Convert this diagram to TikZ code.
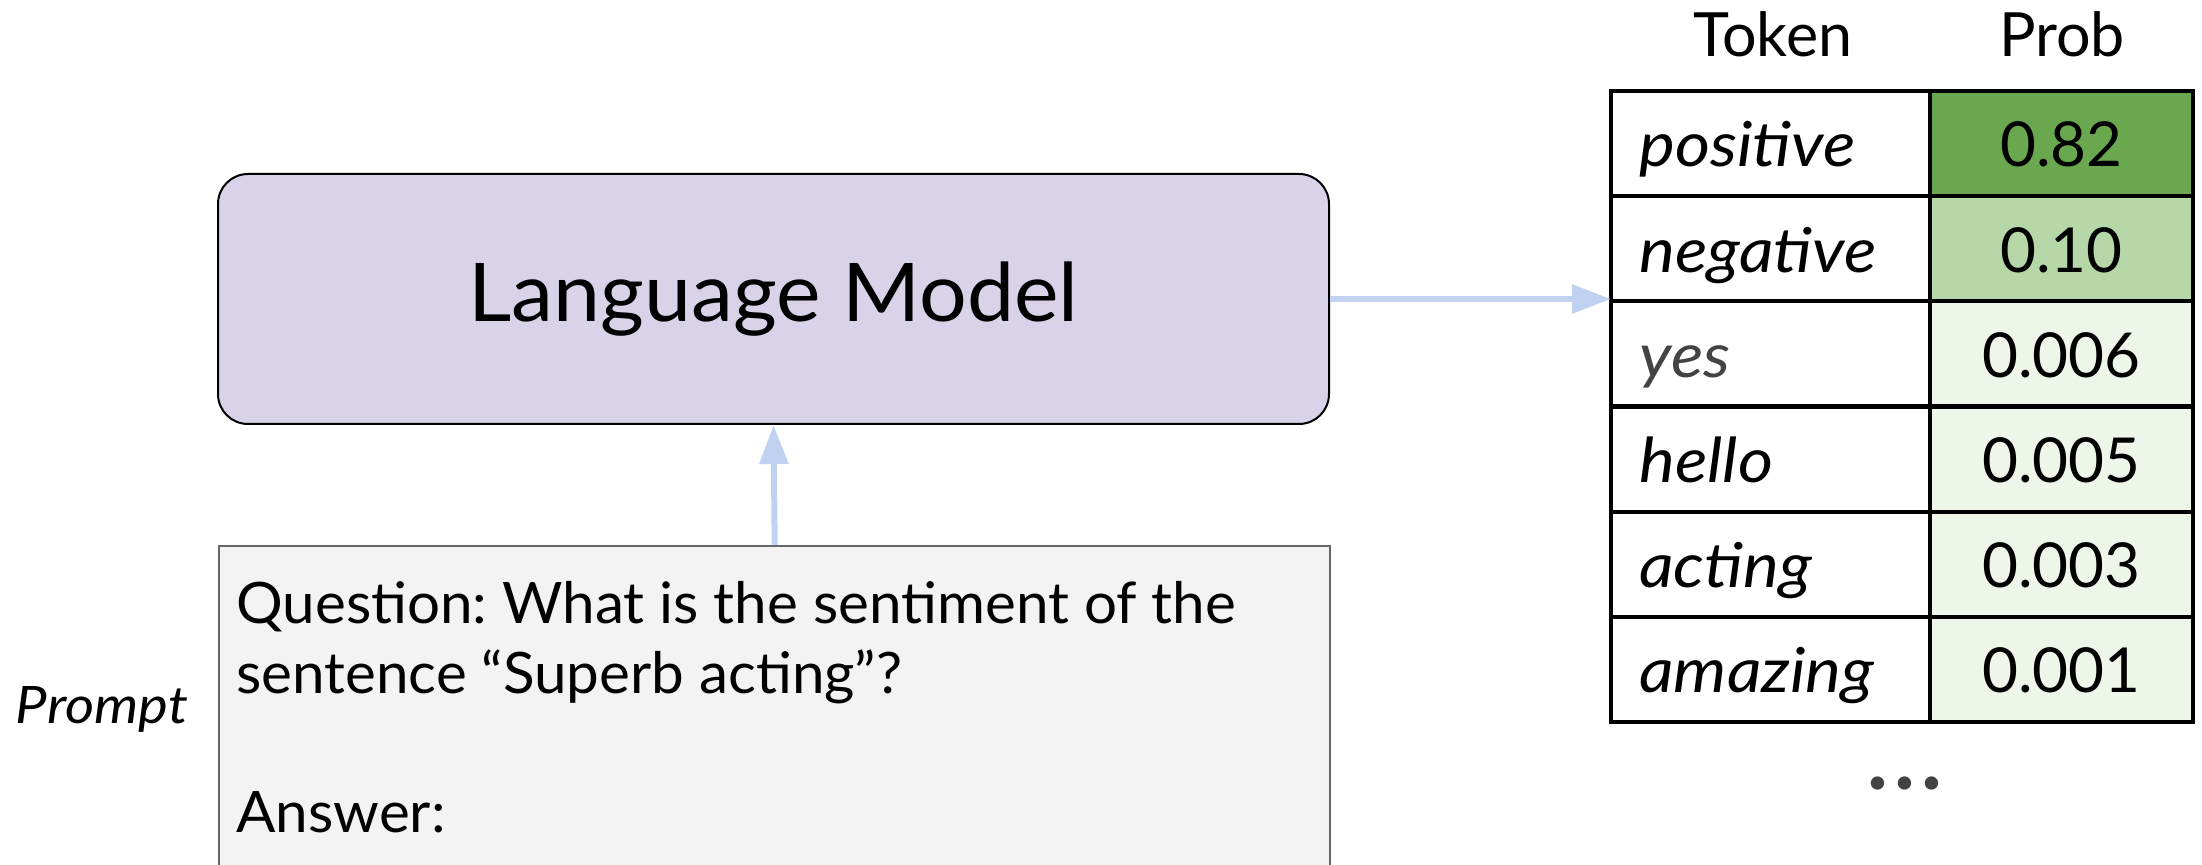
\documentclass[tikz,border=0pt]{standalone}
\usepackage{fontspec}
\setmainfont{Lato}
\newfontfamily\lmfont[FakeStretch=1.04]{Lato}
\newfontfamily\wideital[FakeStretch=1.09]{Lato}
\newfontfamily\promptfont[FakeStretch=1.02]{Lato}
\usetikzlibrary{arrows.meta,positioning}
\frenchspacing

\definecolor{lmfill}{HTML}{D9D2E9}
\definecolor{flow}{HTML}{C0D2F0}
\definecolor{promptfill}{HTML}{F3F3F3}
\definecolor{promptline}{HTML}{666666}
\definecolor{probhi}{HTML}{6AA84F}
\definecolor{probmid}{HTML}{B6D7A8}
\definecolor{problo}{HTML}{EEF6EA}
\definecolor{softtext}{HTML}{434343}

\tikzset{
  flowarrow/.style={draw=flow, line width=3pt,
    -{Triangle[length=19.5pt,width=14pt]}},
  cell/.style={draw=black, line width=2pt, minimum height=52.58pt,
    inner sep=0pt, outer sep=0pt, anchor=north west},
  tokcell/.style={cell, minimum width=159.5pt, fill=white},
  probcell/.style={cell, minimum width=131.5pt},
  toktext/.style={anchor=base west, font=\fontsize{31}{36}\wideital\itshape, inner sep=0pt},
  probtext/.style={anchor=base, font=\fontsize{31}{36}\selectfont, inner sep=0pt},
  headtext/.style={anchor=base, font=\fontsize{30.5}{36}\selectfont, inner sep=0pt},
}

\begin{document}
\begin{tikzpicture}[x=0.5pt, y=-0.5pt]
  \useasboundingbox (0,0) rectangle (2202,865);

  % language model block
  \node[draw=black, line width=1pt, fill=lmfill, rounded corners=15pt,
        minimum width=555.5pt, minimum height=125pt, inner sep=0pt]
        (lm) at (773.5,299)
        {\fontsize{40.5}{48}\lmfont Language Model};

  % prompt box, running off the bottom edge
  \begin{scope}
    \clip (0,0) rectangle (2202,865);
    \node[draw=promptline, line width=1.2pt, fill=promptfill,
          minimum width=555.5pt, minimum height=170pt, inner sep=0pt,
          anchor=north west] (pbox) at (218,545) {};
  \end{scope}
  \node[anchor=base west, align=left, inner sep=0pt,
        font=\fontsize{28.6}{34.8}\promptfont] (ptext) at (236,833)
        {Question: What is the sentiment of the\\
         sentence \textquotedblleft Superb acting\textquotedblright?\\[35pt]
         Answer:};
  \node[anchor=base, inner sep=0pt, font=\fontsize{25.8}{30}\wideital\itshape]
        (plabel) at (102,724) {Prompt};

  % table of next-token probabilities
  \node[headtext] (htok)  at (1773,57) {Token};
  \node[headtext] (hprob) at (2062,57) {Prob};

  \foreach \i/\tok/\p/\col/\tcol in {
      1/positive/0.82/probhi/black,
      2/negative/0.10/probmid/black,
      3/yes/0.006/problo/softtext,
      4/hello/0.005/problo/black,
      5/acting/0.003/problo/black,
      6/amazing/0.001/problo/black} {
    \node[tokcell] (tok\i) at (1611, {91+105.17*(\i-1)}) {};
    \node[probcell, fill=\col] (prob\i) at (1930, {91+105.17*(\i-1)}) {};
    \node[toktext, text=\tcol] (tokt\i) at ([xshift=14pt, yshift=-38pt]tok\i.north west) {\tok};
    \node[probtext] (probt\i) at ([yshift=-38pt]prob\i.north) {\p};
  }
  \node[inner sep=0pt, anchor=base, font=\fontsize{44}{50}\selectfont\bfseries, text=softtext]
        (more) at (1905,790) {.\kern3pt.\kern3pt.};

  % connectors
  \draw[flowarrow] (pbox.north) -- (lm.south);
  \draw[flowarrow] (lm.east) -- (lm.east -| tok3.west);
\end{tikzpicture}
\end{document}
